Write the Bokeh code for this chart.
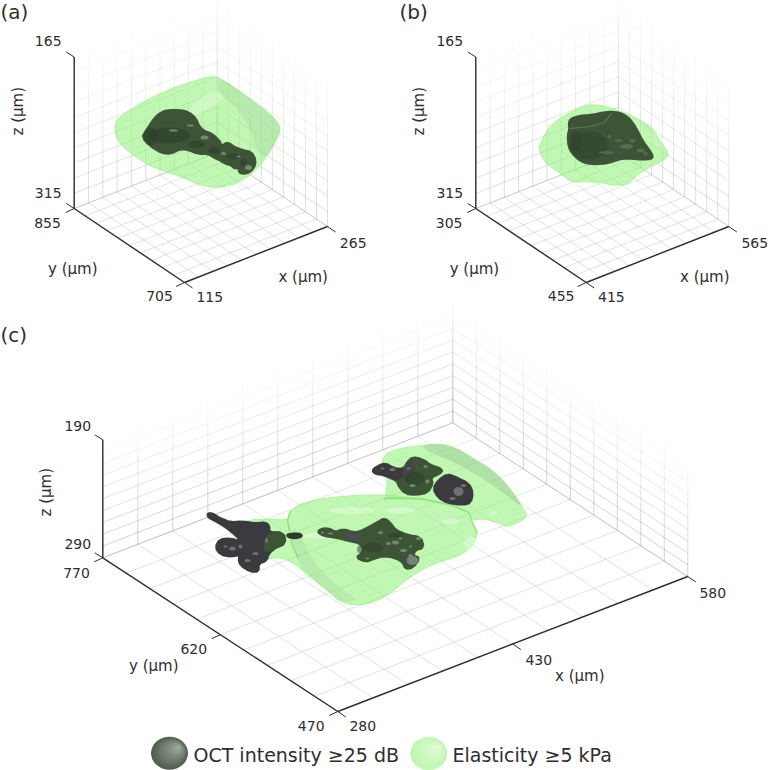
from bokeh.plotting import figure
from bokeh.models import Range1d
from bokeh.embed import file_html
from bokeh.resources import INLINE
from bokeh.core.properties import value
import numpy as np

# ---- axis values (micrometres) ----
a_x_ticks = [115, 265]; a_y_ticks = [705, 855]; a_z_ticks = [315, 165]
b_x_ticks = [415, 565]; b_y_ticks = [455, 305]; b_z_ticks = [315, 165]
c_x_ticks = [280, 430, 580]; c_y_ticks = [470, 620, 770]; c_z_ticks = [290, 190]
grid_divisions = 10

# ---- surface outlines (page position, one pair per vertex) ----
a_elastic = [(212,76),(218,77),(230,84),(248,97),(268,112),(278,122),(280,130),(275,142),(265,158),(255,170),(242,180),(228,186),(212,187),(198,184),(185,178),(168,172),(148,165),(130,153),(118,142),(114,130),(115,120),(125,112),(145,100),(168,89),(192,81),(205,77)]
a_elastic_shade = [(218,77),(230,84),(248,97),(268,112),(278,122),(280,130),(275,142),(265,158),(256,150),(250,130),(240,112),(228,100),(218,92)]
a_elastic_light = [(196,100),(212,90),(222,92),(222,100),(210,106),(196,116),(186,112)]
a_oct = [(168,110),(180,110),(188,112),(195,118),(199,127),(204,131),(212,134),(219,141),(221,146),(227,142),(234,147),(242,150),(251,152),(255,160),(253,168),(246,173),(238,172),(241,166),(235,168),(230,164),(225,163),(219,159),(214,157),(208,153),(198,153),(188,149),(180,148),(170,153),(161,152),(151,146),(142,137),(146,130),(154,118),(161,112)]
a_oct_dark = [(168,135,42,16),(150,136,14,18),(214,150,12,7),(233,156,14,6),(243,162,7,7),(196,144,16,8)]
a_oct_lit = [(173,130,9,2.5),(204,137,8,4),(248,167,7,5),(223,153,5,3),(190,125,7,2),(238,156,4,2)]

b_elastic = [(590,104),(602,105),(615,109),(627,113),(640,120),(652,127),(658,138),(663,145),(669,154),(663,160),(653,165),(643,170),(633,178),(627,184),(613,185),(600,182),(587,181),(572,182),(560,173),(548,165),(542,158),(538,148),(542,137),(550,125),(560,117),(573,110),(582,106)]
b_oct = [(570,118),(580,115),(593,114),(602,112),(610,111),(620,112),(628,117),(633,123),(637,130),(642,140),(648,148),(653,156),(650,159),(637,159),(627,158),(618,159),(607,163),(593,164),(582,162),(573,155),(568,147),(567,135),(569,128),(568,123)]
b_oct_crease = [(569,128),(590,126),(604,122),(611,113)]
b_oct_dark = [(588,145,38,28),(575,140,12,20)]
b_oct_lit = [(609,136,4,3),(640,150,8,4),(645,153,5,3),(626,146,14,5),(606,152,16,3),(618,140,8,3),(632,140,6,4)]

c_elastic_main = [(243,520),(267,518),(288,520),(290,510),(300,503),(320,498),(350,495),(384,494),(407,497),(423,500),(463,508),(470,520),(477,533),(474,543),(461,555),(434,563),(411,575),(390,593),(373,602),(357,605),(340,602),(327,590),(310,577),(293,562),(280,557),(267,558),(253,565),(243,562),(235,555),(237,547),(232,535)]
c_elastic_rim = [(290,525),(300,535),(312,560),(335,585),(360,600),(340,602),(327,590),(310,577),(296,562)]
c_elastic_upper = [(383,455),(397,448),(420,445),(440,443),(457,448),(473,458),(493,470),(510,488),(523,508),(528,517),(507,527),(500,523),(483,518),(472,520),(468,512),(453,505),(420,498),(383,498),(387,487),(385,473),(382,462)]
c_elastic_shade = [(420,445),(440,443),(457,448),(473,458),(493,470),(510,488),(523,508),(513,500),(487,480),(457,463),(430,452)]
c_elastic_fold = [(290,510),(287,520),(292,545),(298,558)]
c_elastic_fold2 = [(383,498),(420,498),(453,505),(468,512),(472,522),(477,533)]
c_light_streaks = [(325,535,50,6),(352,510,44,7),(470,543,14,14),(450,521,18,6),(400,510,30,6),(493,512,8,4)]
c_left = [(207,513),(212,513),(220,518),(230,522),(242,521),(255,523),(265,522),(269,526),(268,532),(283,532),(285,543),(275,547),(268,553),(266,560),(258,563),(258,571),(250,571),(240,565),(238,558),(241,554),(230,556),(220,554),(215,547),(219,539),(230,538),(238,541),(238,537),(232,532),(226,527),(216,521),(208,517)]
c_left_green = [(268,532),(283,532),(285,543),(275,547),(267,552),(263,547)]
c_left_bit = [(286,534),(292,533),(300,533),(302,536),(295,538),(288,537)]
c_middle = [(317,531),(323,528),(330,529),(335,532),(343,529),(352,532),(358,532),(368,527),(377,522),(384,518),(390,523),(395,530),(407,535),(420,537),(423,547),(415,549),(412,555),(419,558),(412,567),(405,568),(403,562),(395,557),(383,555),(373,558),(365,561),(356,557),(362,553),(363,547),(358,542),(348,540),(337,537),(323,535)]
c_middle_grey = [(343,533),(358,532),(362,540),(352,541),(346,538)]
c_upper = [(372,470),(377,466),(385,463),(393,468),(403,469),(407,462),(412,457),(422,459),(430,465),(442,469),(439,473),(430,477),(432,483),(427,492),(415,494),(405,493),(398,485),(397,480),(383,474),(375,473)]
c_upper_grey = [(372,470),(377,466),(385,463),(393,468),(403,469),(405,473),(397,480),(383,474),(375,473)]
c_upper_wedge = [(407,462),(412,457),(413,473),(405,480),(402,472)]
c_rock = [(433,488),(438,480),(447,474),(455,477),(468,483),(472,492),(470,502),(462,504),(447,502),(438,497)]
c_spots_dark = [(232,548,6,4),(240,546,4,4),(255,553,6,3),(266,540,3,5),(247,560,6,3),(458,491,10,9),(463,485,5,3),(452,498,6,3),(392,469,6,3),(382,468,4,2),(225,546,4,2)]
c_spots_green = [(380,532,5,3),(388,543,5,3),(395,542,7,4),(403,550,7,3),(418,538,5,3),(367,558,4,2),(330,533,6,2),(322,532,3,2),(408,468,4,2),(425,466,4,3),(412,485,6,3),(427,481,4,4),(400,538,4,2),(410,546,3,2)]
c_spot_grey = [(412,560,12,9),(410,555,4,3)]
c_shadow = [(373,547,20,10),(360,549,7,8),(414,478,20,14),(395,535,16,5)]

legend_labels = ["OCT intensity \u226525 dB", "Elasticity \u22655 kPa"]
panel_labels = ["(a)", "(b)", "(c)"]

# ---- page geometry ----
DARK = "#2e2e2e"
FONT = value("DejaVu Sans")
p = figure(width=768, height=770, x_range=Range1d(0, 768), y_range=Range1d(770, 0),
           x_axis_type=None, y_axis_type=None, toolbar_location=None, output_backend="svg",
           min_border=0, outline_line_color=None, background_fill_color="white")
p.grid.visible = False


def panel(front, right, left, height, xt, yt, zt, strength):
    front, right, left = map(np.array, (front, right, left))
    vx, vy = right - front, left - front
    vz = np.array([0.0, -height])

    def at(fx, fy, fz):
        return front + fx * vx + fy * vy + fz * vz

    xs0, ys0, xs1, ys1, alphas = [], [], [], [], []

    def grid_line(a, b, fog):
        ts = np.linspace(0, 1, 9)
        for t0, t1 in zip(ts[:-1], ts[1:]):
            pa = at(*(np.array(a) * (1 - t0) + np.array(b) * t0))
            pb = at(*(np.array(a) * (1 - t1) + np.array(b) * t1))
            tm = (t0 + t1) / 2
            xs0.append(pa[0]); ys0.append(pa[1]); xs1.append(pb[0]); ys1.append(pb[1])
            alphas.append(fog(np.array(a) * (1 - tm) + np.array(b) * tm))

    floor = lambda f: 0.38 - 0.1 * f[0] * f[1]
    wall = lambda f: max(0.03, strength * (1 - f[2]) ** 0.9 + 0.02)
    for i in range(grid_divisions + 1):
        f = i / grid_divisions
        grid_line((f, 0, 0), (f, 1, 0), floor)
        grid_line((0, f, 0), (1, f, 0), floor)
        grid_line((f, 1, 0), (f, 1, 1), wall)
        grid_line((1, f, 0), (1, f, 1), wall)
        grid_line((0, 1, f), (1, 1, f), wall)
        grid_line((1, 0, f), (1, 1, f), wall)
    p.segment(xs0, ys0, xs1, ys1, line_color="#9c9c9c", line_alpha=alphas, line_width=0.8)

    # axes and ticks
    ends = [((0, 1, 1), (0, 1, 0)), ((0, 1, 0), (0, 0, 0)), ((0, 0, 0), (1, 0, 0))]
    for a, b in ends:
        pa, pb = at(*a), at(*b)
        p.line([pa[0], pb[0]], [pa[1], pb[1]], line_color=DARK, line_width=1.4)
    tick_x = lambda fr: (*at(fr, 0, 0), 8, 5.5)
    tick_y = lambda fr: (*at(0, fr, 0), -8.5, 4)
    tick_z = lambda fr: (*at(0, 1, fr), -8, -5)
    for maker, ticks in ((tick_x, xt), (tick_y, yt), (tick_z, zt)):
        n = len(ticks)
        for k in range(n):
            x, y, dx, dy = maker(k / (n - 1))
            p.line([x, x + dx], [y, y + dy], line_color=DARK, line_width=1.0)


panel((184, 282), (327, 226), (73.7, 208), 151.5, a_x_ticks, a_y_ticks, a_z_ticks, 0.42)
panel((585.7, 282), (728.3, 226), (475.3, 208), 151.5, b_x_ticks, b_y_ticks, b_z_ticks, 0.42)
panel((337.3, 711), (687.3, 576), (102.3, 557.3), 118, c_x_ticks, c_y_ticks, c_z_ticks, 0.58)


def rounded(pts, passes):
    pts = np.array(pts, float)
    for _ in range(passes):
        nxt = np.roll(pts, -1, axis=0)
        pts = np.column_stack([0.75 * pts + 0.25 * nxt, 0.25 * pts + 0.75 * nxt]).reshape(-1, 2)
    return pts


def poly(pts, color, alpha=1.0, width=1.0, passes=2):
    r = rounded(pts, passes)
    p.patch(r[:, 0].tolist(), r[:, 1].tolist(), fill_color=color, fill_alpha=alpha,
            line_color=color, line_alpha=alpha, line_width=width, line_join="round")


def spots(items, color, alpha):
    x, y, w, h = zip(*items)
    p.ellipse(list(x), list(y), list(w), list(h), fill_color=color, fill_alpha=alpha, line_color=None)


GREEN = "#8ef078"
OCT_G = "#3d5437"
OCT_D = "#3b3b3f"
# panel a
poly(a_elastic, GREEN, 0.56)
poly(a_elastic_shade, "#8aa886", 0.16, width=0)
poly(a_elastic_light, "#e4fbdc", 0.45, width=0)
poly(a_oct, OCT_G, width=3, passes=1)
spots(a_oct_dark, "#2b3d28", 0.55)
spots(a_oct_lit, "#a3b89a", 0.55)
# panel b
poly(b_elastic, GREEN, 0.56)
poly(b_oct, OCT_G, width=2)
spots(b_oct_dark, "#2d412a", 0.45)
spots(b_oct_lit, "#7d8a7c", 0.4)
p.line(*zip(*b_oct_crease), line_color="#5f7a57", line_width=1.2)
# panel c
poly(c_elastic_main, GREEN, 0.56)
poly(c_elastic_upper, GREEN, 0.56)
poly(c_elastic_rim, "#8aa886", 0.14, width=0)
poly(c_elastic_shade, "#8aa886", 0.28, width=0)
spots(c_light_streaks, "#eefde9", 0.45)
for fold in (c_elastic_fold, c_elastic_fold2):
    p.line(*zip(*fold), line_color="#84df6e", line_width=1.6, line_alpha=0.8)
poly(c_left, OCT_D, width=2.5, passes=1)
poly(c_left_green, OCT_G, width=2)
poly(c_left_bit, "#2f3a2e", width=2)
poly(c_middle, OCT_G, width=3, passes=1)
poly(c_middle_grey, "#4b4b52", 0.8)
poly(c_upper, OCT_G, width=3, passes=1)
poly(c_upper_grey, OCT_D, width=2)
poly(c_upper_wedge, "#45454a")
poly(c_rock, OCT_D, width=3, passes=1)
spots(c_shadow, "#2b3d28", 0.5)
spots(c_spots_dark, "#a5a5a8", 0.5)
spots(c_spots_green, "#9bb492", 0.55)
spots(c_spot_grey, "#8d8f92", 0.75)

# ---- texts ----
tick_texts = [
    (47.7, 40.7, "165"), (47.7, 192.7, "315"), (47, 222.7, "855"), (159, 295, "705"), (209.3, 296.7, "115"), (352.7, 242.7, "265"),
    (449.3, 40.7, "165"), (449.3, 192.7, "315"), (448.6, 222.7, "305"), (560.6, 295, "455"), (610.9, 296.7, "415"), (754.3, 242.7, "565"),
    (77.3, 425, "190"), (77.3, 543.3, "290"), (76, 572.3, "770"), (193.3, 648, "620"), (310.7, 725, "470"),
    (362.3, 725.7, "280"), (538.3, 659.3, "430"), (712.3, 592, "580"),
]
tx, ty, tt = zip(*tick_texts)
p.text(list(tx), list(ty), text=list(tt), text_font=FONT, text_font_size="14px", text_color=DARK,
       text_align="center", text_baseline="middle")

label_texts = [(72.3, 268.3, "y (\u00b5m)"), (302.7, 276, "x (\u00b5m)"), (473.9, 268.3, "y (\u00b5m)"), (704.3, 276, "x (\u00b5m)"),
               (153.3, 665, "y (\u00b5m)"), (579.3, 675, "x (\u00b5m)")]
lx, ly, lt = zip(*label_texts)
p.text(list(lx), list(ly), text=list(lt), text_font=FONT, text_font_size="15px", text_color=DARK,
       text_align="center", text_baseline="middle")
p.text([17.3, 418.9, 45.7], [110.7, 110.7, 491.7], text=["z (\u00b5m)"] * 3, angle=[np.pi / 2] * 3, text_font=FONT,
       text_font_size="15px", text_color=DARK, text_align="center", text_baseline="middle")

p.text([0, 399, 0], [11, 11, 334], text=panel_labels, text_font=FONT, text_font_size="20px", text_color=DARK,
       text_align="left", text_baseline="middle")

# ---- legend ----
def ball(cx, cy, outer, inner):
    o, i = np.array(outer, float), np.array(inner, float)
    for t in np.linspace(0, 1, 14):
        c = o * (1 - t) + i * t
        s = 1 - t * 0.92
        p.ellipse([cx + 9 * t], [cy - 6 * t], [37 * s], [33 * s],
                  fill_color="#%02x%02x%02x" % tuple(int(v) for v in c), line_color=None)


ball(169, 752.7, (82, 94, 80), (158, 170, 154))
ball(428.3, 753, (190, 247, 175), (226, 252, 218))
p.text([193, 452], [754, 754], text=legend_labels, text_font=FONT, text_font_size="19px", text_color=DARK,
       text_align="left", text_baseline="middle")

open("out.html", "w").write(file_html(p, INLINE))
